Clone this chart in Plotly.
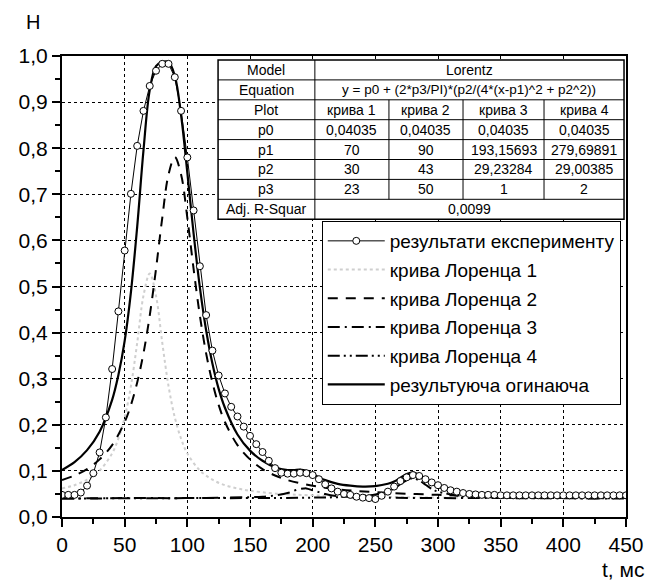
import plotly.graph_objects as go

# ---------------- data ----------------
t_exp = list(range(0, 455, 5))
h_exp = [0.048, 0.048, 0.048, 0.053, 0.068, 0.095, 0.140, 0.216, 0.321, 0.446,
         0.578, 0.701, 0.805, 0.881, 0.935, 0.968, 0.983, 0.983, 0.954, 0.881,
         0.780, 0.665, 0.544, 0.438, 0.361, 0.307, 0.268, 0.239, 0.218, 0.196,
         0.176, 0.158, 0.141, 0.122, 0.106, 0.096, 0.094, 0.094, 0.096, 0.095,
         0.091, 0.082, 0.071, 0.062, 0.055, 0.050, 0.048, 0.044, 0.042, 0.041,
         0.039, 0.046, 0.055, 0.066, 0.078, 0.086, 0.091, 0.089, 0.082, 0.075,
         0.069, 0.063, 0.058, 0.055, 0.052, 0.050, 0.049, 0.048, 0.048, 0.048,
         0.047, 0.047, 0.047, 0.047, 0.047, 0.047, 0.047, 0.047, 0.047, 0.047,
         0.047, 0.047, 0.047, 0.047, 0.047, 0.047, 0.047, 0.047, 0.047, 0.047,
         0.047]

t_c1 = [0, 10, 20, 30, 40, 45, 50, 55, 60, 65, 70, 75, 80, 85, 90, 95, 100, 110, 120, 130,
        140, 150, 170, 200, 250, 300, 350, 400, 450]
h_c1 = [0.062, 0.069, 0.081, 0.101, 0.138, 0.170, 0.216, 0.284, 0.378, 0.480, 0.528, 0.480,
        0.378, 0.284, 0.216, 0.170, 0.138, 0.101, 0.081, 0.069, 0.062, 0.057, 0.051, 0.047,
        0.044, 0.042, 0.042, 0.041, 0.041]

t_c2 = [0, 10, 20, 30, 40, 50, 55, 60, 65, 70, 75, 80, 85, 90, 95, 100, 105, 110, 115, 120,
        125, 130, 140, 150, 160, 170, 180, 200, 220, 250, 300, 350, 400, 450]
h_c2 = [0.080, 0.090, 0.104, 0.125, 0.156, 0.206, 0.243, 0.292, 0.355, 0.437, 0.538, 0.649,
        0.743, 0.781, 0.743, 0.649, 0.538, 0.437, 0.355, 0.292, 0.243, 0.206, 0.156, 0.125,
        0.104, 0.090, 0.080, 0.068, 0.060, 0.054, 0.048, 0.045, 0.044, 0.043]

t_c3 = [0, 50, 100, 130, 150, 160, 170, 180, 185, 190, 193, 195, 200, 205, 210, 220, 230,
        250, 300, 350, 450]
h_c3 = [0.040, 0.041, 0.041, 0.042, 0.043, 0.044, 0.047, 0.052, 0.057, 0.061, 0.062, 0.062,
        0.058, 0.054, 0.050, 0.045, 0.043, 0.042, 0.041, 0.041, 0.040]

t_c4 = [0, 100, 150, 200, 220, 240, 250, 260, 265, 270, 275, 280, 285, 290, 295, 300, 310,
        320, 340, 360, 400, 450]
h_c4 = [0.040, 0.041, 0.041, 0.042, 0.043, 0.046, 0.049, 0.056, 0.062, 0.071, 0.080, 0.084,
        0.079, 0.070, 0.061, 0.055, 0.049, 0.045, 0.043, 0.042, 0.041, 0.041]

t_env = [0, 10, 20, 30, 40, 45, 50, 55, 60, 65, 70, 75, 80, 85, 90, 95, 100, 105, 110, 115,
         120, 125, 130, 140, 150, 160, 170, 180, 185, 190, 195, 200, 205, 210, 220, 230, 240,
         250, 260, 265, 270, 275, 280, 285, 290, 295, 300, 310, 320, 340, 360, 380, 400, 425, 450]
h_env = [0.102, 0.119, 0.145, 0.185, 0.254, 0.308, 0.382, 0.488, 0.630, 0.795, 0.926, 0.978,
         0.987, 0.987, 0.957, 0.872, 0.747, 0.615, 0.498, 0.405, 0.333, 0.278, 0.237, 0.179,
         0.144, 0.122, 0.108, 0.102, 0.102, 0.103, 0.100, 0.093, 0.086, 0.080, 0.072, 0.068,
         0.066, 0.067, 0.072, 0.077, 0.085, 0.093, 0.097, 0.091, 0.081, 0.072, 0.065, 0.058,
         0.054, 0.050, 0.048, 0.047, 0.046, 0.045, 0.044]

legend_names = ["результати експерименту", "крива Лоренца 1", "крива Лоренца 2",
                "крива Лоренца 3", "крива Лоренца 4", "результуюча огинаюча"]

# table content
tbl_model = ["Model", "Lorentz"]
tbl_equation = ["Equation", "y = p0 + (2*p3/PI)*(p2/(4*(x-p1)^2 + p2^2))"]
tbl_plot = ["Plot", "крива 1", "крива 2", "крива 3", "крива 4"]
tbl_p0 = ["p0", "0,04035", "0,04035", "0,04035", "0,04035"]
tbl_p1 = ["p1", "70", "90", "193,15693", "279,69891"]
tbl_p2 = ["p2", "30", "43", "29,23284", "29,00385"]
tbl_p3 = ["p3", "23", "50", "1", "2"]
tbl_adj = ["Adj. R-Squar", "0,0099"]

# ---------------- layout geometry (pixels) ----------------
W, H = 656, 581
L, R, T, B = 62, 633, 56, 517


def px(x):
    return (x - L) / (R - L)


def py(y):
    return (B - y) / (B - T)


FONT = "Liberation Sans, Arial, sans-serif"

fig = go.Figure()

fig.add_trace(go.Scatter(x=t_c1, y=h_c1, mode="lines", name=legend_names[1],
                         line=dict(color="#cfcfcf", width=2, dash="dot", shape="spline"),
                         legendrank=2, legendgroup="g2"))
fig.add_trace(go.Scatter(x=t_c2, y=h_c2, mode="lines", name=legend_names[2],
                         line=dict(color="black", width=2, dash="10px,8px", shape="spline"),
                         legendrank=3, legendgroup="g3"))
fig.add_trace(go.Scatter(x=t_c3, y=h_c3, mode="lines", name=legend_names[3],
                         line=dict(color="black", width=2, dash="12px,5px,2px,5px", shape="spline"),
                         legendrank=4, legendgroup="g4"))
fig.add_trace(go.Scatter(x=t_c4, y=h_c4, mode="lines", name=legend_names[4],
                         line=dict(color="black", width=2, dash="12px,4px,2px,4px,2px,4px", shape="spline"),
                         legendrank=5, legendgroup="g5"))
fig.add_trace(go.Scatter(x=t_env, y=h_env, mode="lines", name=legend_names[5],
                         line=dict(color="black", width=2.2, shape="spline"),
                         legendrank=6, legendgroup="g6"))
fig.add_trace(go.Scatter(x=t_exp, y=h_exp, mode="lines+markers", name=legend_names[0],
                         line=dict(color="black", width=1),
                         marker=dict(symbol="circle", size=7, color="white",
                                     line=dict(color="black", width=1)),
                         legendrank=1, legendgroup="g1"))

# ---------------- table (shapes + annotations) ----------------
shapes = []
annotations = []
tx0, tx1 = 220, 631
ty0, rh = 60, 19.9
cols = [220, 318, 393, 468, 550, 631]
rows = [tbl_model, tbl_equation, tbl_plot, tbl_p0, tbl_p1, tbl_p2, tbl_p3, tbl_adj]
nrows = len(rows)
ty1 = ty0 + rh * nrows

shapes.append(dict(type="rect", xref="paper", yref="paper", layer="above",
                   x0=px(tx0), x1=px(tx1), y0=py(ty0), y1=py(ty1),
                   fillcolor="white", line=dict(color="black", width=1.5)))
for i in range(1, nrows):
    yy = py(ty0 + rh * i)
    shapes.append(dict(type="line", xref="paper", yref="paper", layer="above",
                       x0=px(tx0), x1=px(tx1), y0=yy, y1=yy,
                       line=dict(color="black", width=1)))
shapes.append(dict(type="line", xref="paper", yref="paper", layer="above",
                   x0=px(cols[1]), x1=px(cols[1]), y0=py(ty0), y1=py(ty1),
                   line=dict(color="black", width=1)))
for c in cols[2:5]:
    shapes.append(dict(type="line", xref="paper", yref="paper", layer="above",
                       x0=px(c), x1=px(c), y0=py(ty0 + 2 * rh), y1=py(ty0 + 7 * rh),
                       line=dict(color="black", width=1)))

for ri, row in enumerate(rows):
    yc = py(ty0 + rh * ri + rh / 2)
    if len(row) == 2:
        cells = [(cols[0], cols[1], row[0]), (cols[1], cols[5], row[1])]
    else:
        cells = [(cols[k], cols[k + 1], row[k]) for k in range(5)]
    for a, b, txt in cells:
        fs = 13.5 if txt == tbl_equation[1] else 14
        annotations.append(dict(xref="paper", yref="paper", x=px((a + b) / 2), y=yc,
                                text=txt, showarrow=False, xanchor="center", yanchor="middle",
                                font=dict(family=FONT, size=fs, color="black")))

# axis titles
annotations.append(dict(xref="paper", yref="paper", x=px(33), y=py(22), text="H",
                        showarrow=False, xanchor="center", yanchor="middle",
                        font=dict(family=FONT, size=20, color="black")))
annotations.append(dict(xref="paper", yref="paper", x=px(653), y=py(556), text="t, мс",
                        showarrow=False, xanchor="right", yanchor="top",
                        font=dict(family=FONT, size=21, color="black")))

axis_common = dict(showline=True, linecolor="black", linewidth=2, mirror=True,
                   ticks="outside", ticklen=8, tickwidth=1.5, tickcolor="black",
                   showgrid=True, gridcolor="black", gridwidth=1, griddash="3px,3px",
                   zeroline=False, tickfont=dict(family=FONT, size=21, color="black"))

fig.update_layout(
    width=W, height=H,
    margin=dict(l=L, r=W - R, t=T, b=H - B, pad=0),
    paper_bgcolor="white", plot_bgcolor="white",
    separators=", ",
    font=dict(family=FONT, color="black"),
    xaxis=dict(range=[0, 450], dtick=50, tick0=0,
               minor=dict(dtick=25, ticklen=5, ticks="outside", tickcolor="black", showgrid=False),
               **axis_common),
    yaxis=dict(range=[0, 1.0], dtick=0.1, tick0=0, tickformat=".1f",
               minor=dict(dtick=0.05, ticklen=5, ticks="outside", tickcolor="black", showgrid=False),
               **axis_common),
    legend=dict(x=px(325), y=py(221), xanchor="left", yanchor="top",
                bgcolor="white", bordercolor="black", borderwidth=1,
                font=dict(family=FONT, size=19, color="black"),
                tracegroupgap=1, itemwidth=57, traceorder="grouped"),
    shapes=shapes,
    annotations=annotations,
    showlegend=True,
)

fig.write_html("out.html")
